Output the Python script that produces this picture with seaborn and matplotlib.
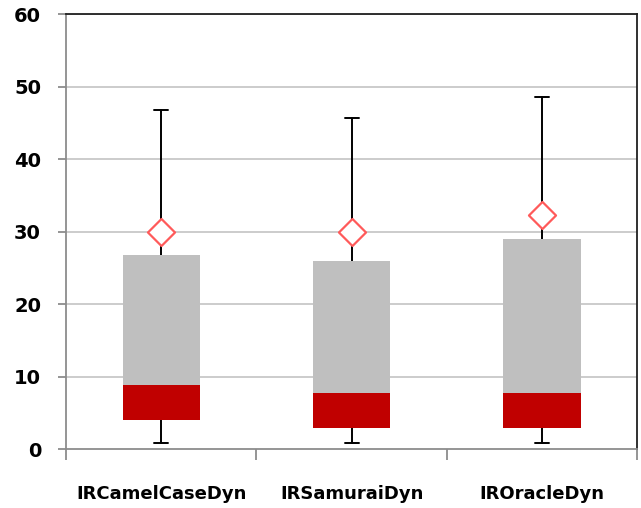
import matplotlib
matplotlib.use("Agg")
import matplotlib.pyplot as plt
import seaborn as sns
import pandas as pd
import numpy as np

# Five-number summaries plus mean for each configuration
categories = ["IRCamelCaseDyn", "IRSamuraiDyn", "IROracleDyn"]
minimum = [0.8, 0.8, 0.8]
q1 = [4.0, 2.9, 2.9]
median = [8.8, 7.8, 7.8]
q3 = [26.8, 26.0, 29.0]
maximum = [46.8, 45.7, 48.6]
mean = [30.0, 30.0, 32.3]
y_ticks = [0, 10, 20, 30, 40, 50, 60]

df = pd.DataFrame({"cat": categories, "min": minimum, "q1": q1, "med": median,
                   "q3": q3, "max": maximum, "mean": mean})

sns.set_theme(style="white")
plt.rcParams["font.family"] = ["DejaVu Sans"]

fig = plt.figure(figsize=(6.41, 5.08), dpi=100)
ax = fig.add_axes([0.103, 0.116, 0.891, 0.856])

pos = np.arange(len(df))
width = 0.405

# whiskers and caps
for x, lo, a, b, hi in zip(pos, df["min"], df["q1"], df["q3"], df["max"]):
    ax.plot([x, x], [lo, a], color="black", lw=1.4, zorder=2)
    ax.plot([x, x], [b, hi], color="black", lw=1.4, zorder=2)
    ax.plot([x - 0.037, x + 0.037], [lo, lo], color="black", lw=1.4, zorder=2)
    ax.plot([x - 0.037, x + 0.037], [hi, hi], color="black", lw=1.4, zorder=2)

# lower box (Q1 to median) and upper box (median to Q3)
ax.bar(pos, df["med"] - df["q1"], bottom=df["q1"], width=width,
       color="#C00000", zorder=3, linewidth=0)
ax.bar(pos, df["q3"] - df["med"], bottom=df["med"], width=width,
       color="#BFBFBF", zorder=3, linewidth=0)

# mean markers
sns.scatterplot(x=pos, y=df["mean"], marker="D", s=190, color="white",
                edgecolor="#FF5A5A", linewidth=1.6, zorder=4, ax=ax, legend=False)

ax.set_xlim(-0.5, 2.5)
ax.set_ylim(0, 60)
ax.set_yticks(y_ticks)
ax.set_yticklabels([str(v) for v in y_ticks], fontsize=14, fontweight="bold",
                   color="black")
for v in y_ticks[1:]:
    ax.axhline(v, color="#C8C8C8", lw=1.3, zorder=1)

ax.set_xticks([-0.5, 0.5, 1.5, 2.5])
ax.set_xticklabels([])
ax.tick_params(axis="x", which="major", length=8, width=1.3, color="#8C8C8C",
               direction="out", bottom=True)
ax.set_xticks(pos, minor=True)
ax.set_xticklabels(categories, minor=True, fontsize=13, fontweight="bold",
                   color="black")
ax.tick_params(axis="x", which="minor", length=0, pad=26)
ax.tick_params(axis="y", length=6, width=1.3, color="#8C8C8C", direction="out",
               left=True, pad=12)

for side in ["left", "bottom"]:
    ax.spines[side].set_color("#8C8C8C")
    ax.spines[side].set_linewidth(1.3)
for side in ["top", "right"]:
    ax.spines[side].set_color("#202020")
    ax.spines[side].set_linewidth(1.3)
ax.set_xlabel("")
ax.set_ylabel("")

fig.savefig("out.png", dpi=100)
